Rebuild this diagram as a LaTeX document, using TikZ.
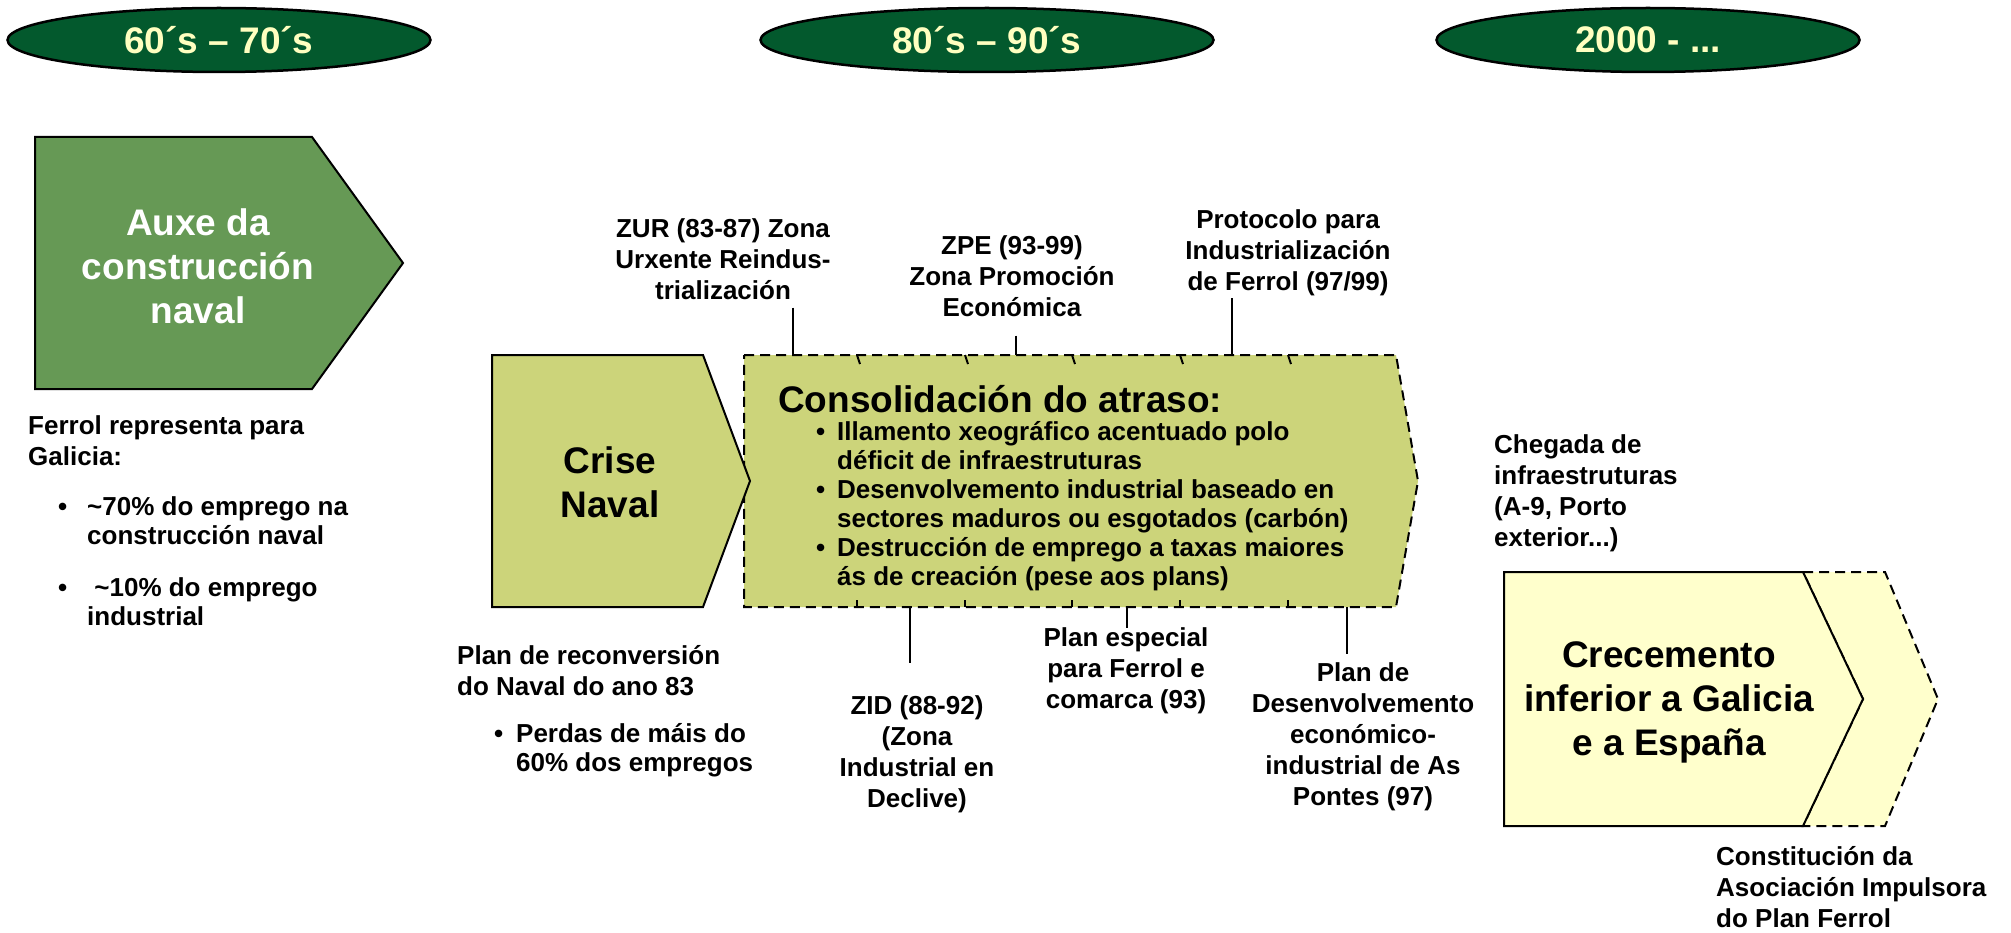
\documentclass[tikz,border=0pt]{standalone}
\usepackage{fontspec}
\setmainfont{Liberation Sans}
\usetikzlibrary{shapes.geometric}

\definecolor{eragreen}{HTML}{03592D}
\definecolor{eratext}{HTML}{FFFFC0}
\definecolor{auxegreen}{HTML}{669955}
\definecolor{olive}{HTML}{CCD47A}
\definecolor{paleyellow}{HTML}{FFFFCC}

\tikzset{
	era/.style={ellipse, draw=black, line width=2.5pt, fill=eragreen, text=eratext, font=\fontsize{37}{44}\selectfont\bfseries, inner sep=0pt, minimum height=64pt},
	lbl/.style={font=\fontsize{26}{31}\selectfont\bfseries, inner sep=0pt},
	listlbl/.style={font=\fontsize{26}{29}\selectfont\bfseries, inner sep=0pt, align=left, anchor=west},
	big/.style={font=\fontsize{37}{44}\selectfont\bfseries, align=center, inner sep=0pt},
	box/.style={draw=black, line width=2pt},
	dbox/.style={box, dash pattern=on 10pt off 6pt},
	callout/.style={line width=2pt}
}
\newcommand{\bul}[1][22pt]{\makebox[#1][l]{\textbullet}}
\newcommand{\ind}[1][22pt]{\makebox[#1]{}}

\begin{document}
\begin{tikzpicture}[x=1pt, y=-1pt]
	\useasboundingbox (0,0) rectangle (2011,933);

	\node[era, minimum width=423pt] (era1) at (219,40) {60´s – 70´s};
	\node[era, minimum width=453pt] (era2) at (987,40) {80´s – 90´s};
	\node[era, minimum width=423pt] (era3) at (1648,40) {2000 - ...};

	\draw[box, fill=auxegreen] (35,137) -- (312,137) -- (403,263) -- (312,389) -- (35,389) -- cycle;
	\node[big, text=white] (auxe) at (198,266) {Auxe da\\construcción\\naval};
	\node[lbl, align=left, anchor=west] (ferrol) at (28,441) {Ferrol representa para\\Galicia:};
	\node[listlbl] (emp70) at (58,521) {\bul[29pt]\textasciitilde70\% do emprego na\\\ind[29pt]construcción naval};
	\node[listlbl] (emp10) at (58,602) {\bul[29pt]\ \textasciitilde10\% do emprego\\\ind[29pt]industrial};

	\draw[dbox, fill=olive] (744,355) -- (1396,355) -- (1418,481) -- (1396,607) -- (744,607) -- cycle;
	\foreach \x in {857,965,1072,1180,1288} {
		\draw[callout] (\x,355) -- (\x+3,364);
		\draw[callout] (\x,607) -- (\x,600);
	}
	\draw[box, fill=olive] (492,355) -- (703,355) -- (750,481) -- (703,607) -- (492,607) -- cycle;
	\node[big] (crise) at (610,482) {Crise\\Naval};
	\node[font=\fontsize{37}{44}\selectfont\bfseries, anchor=west, inner sep=0pt] (cons) at (778,399) {Consolidación do atraso:};
	\node[listlbl] (conslist) at (816,506) {\bul[21pt]Illamento xeográfico acentuado polo\\\ind[21pt]déficit de infraestruturas\\\bul[21pt]Desenvolvemento industrial baseado en\\\ind[21pt]sectores maduros ou esgotados (carbón)\\\bul[21pt]Destrucción de emprego a taxas maiores\\\ind[21pt]ás de creación (pese aos plans)};

	\node[lbl, align=center] (zur) at (723,259) {ZUR (83-87) Zona\\Urxente Reindus-\\trialización};
	\node[lbl, align=center] (zpe) at (1012,276) {ZPE (93-99)\\Zona Promoción\\Económica};
	\node[lbl, align=center] (prot) at (1288,253) {Protocolo para\\Industrialización\\de Ferrol (97/99)};
	\coordinate (pzur) at (793,355);
	\coordinate (pzpe) at (1016,355);
	\coordinate (pprot) at (1232,355);
	\draw[callout, shorten <=8pt] (pzur |- zur.south) -- (pzur);
	\draw[callout, shorten <=19pt] (pzpe |- zpe.south) -- (pzpe);
	\draw[callout, shorten <=2pt] (pprot |- prot.south) -- (pprot);

	\node[lbl, align=center] (zid) at (917,754) {ZID (88-92)\\(Zona\\Industrial en\\Declive)};
	\node[lbl, align=center] (pesp) at (1126,671) {Plan especial\\para Ferrol e\\comarca (93)};
	\node[lbl, align=center] (pdes) at (1363,737) {Plan de\\Desenvolvemento\\económico-\\industrial de As\\Pontes (97)};
	\coordinate (pzid) at (910,607);
	\coordinate (ppesp) at (1127,607);
	\coordinate (ppdes) at (1347,607);
	\draw[callout, shorten >=32pt] (pzid) -- (pzid |- zid.north);
	\draw[callout] (ppesp) -- (ppesp |- pesp.north);
	\draw[callout, shorten >=9pt] (ppdes) -- (ppdes |- pdes.north);

	\node[lbl, align=left, anchor=west] (plan83) at (457,671) {Plan de reconversión\\do Naval do ano 83};
	\node[listlbl] (perdas) at (494,750) {\bul[22pt]Perdas de máis do\\\ind[22pt]60\% dos empregos};

	\node[lbl, align=left, anchor=west] (chegada) at (1494,493) {Chegada de\\infraestruturas\\(A-9, Porto\\exterior...)};
	\draw[dbox, fill=paleyellow] (1803,572) -- (1885,572) -- (1938,699) -- (1885,826) -- (1803,826) -- (1863,699) -- cycle;
	\draw[box, fill=paleyellow] (1504,572) -- (1803,572) -- (1863,699) -- (1803,826) -- (1504,826) -- cycle;
	\node[big] (crec) at (1669,702) {Crecemento\\inferior a Galicia\\e a España};
	\node[lbl, align=left, anchor=west] (const) at (1716,887) {Constitución da\\Asociación Impulsora\\do Plan Ferrol};
\end{tikzpicture}
\end{document}
